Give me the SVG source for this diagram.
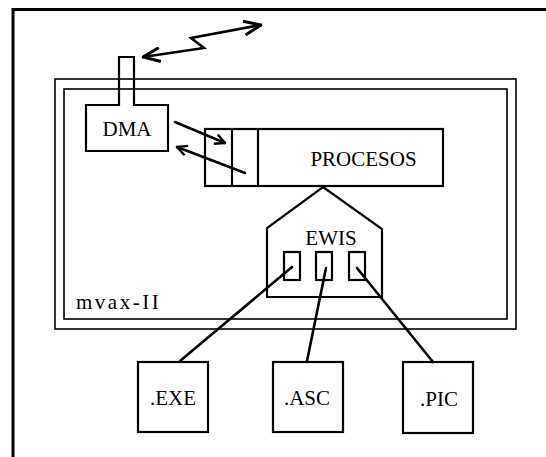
<svg xmlns="http://www.w3.org/2000/svg" width="546" height="457" viewBox="0 0 546 457">
<style>
.b{fill:none;stroke:#000;stroke-width:2.2}
.t{font-family:"Liberation Serif","Times New Roman",serif;fill:#000;font-size:21px}
.c{fill:none;stroke:#000;stroke-width:2.6;stroke-linecap:round}
.m{fill:none;stroke:#000;stroke-width:1.6}
</style>
<defs>
<marker id="ah" viewBox="0 0 12 12" refX="11" refY="6" markerWidth="12" markerHeight="12" markerUnits="userSpaceOnUse" orient="auto-start-reverse">
<path d="M1,1 L11,6 L1,11" fill="none" stroke="#000" stroke-width="2.4"/>
</marker>
<marker id="ah2" viewBox="0 0 20 16" refX="19" refY="8" markerWidth="20" markerHeight="16" markerUnits="userSpaceOnUse" orient="auto-start-reverse">
<path d="M2,1 L19,8 L2,15" fill="none" stroke="#000" stroke-width="3"/>
</marker>
</defs>
<rect width="546" height="457" fill="#fff"/>
<path d="M13,457 V9.5 H546" fill="none" stroke="#000" stroke-width="3"/>
<g id="mvax">
<rect class="m" x="55" y="79" width="461" height="250"/>
<rect class="m" x="64" y="89" width="443" height="230"/>
<text class="t" x="76" y="309" font-size="18" letter-spacing="2.5">mvax-II</text>
</g>
<g id="dma">
<path class="b" d="M86,105 H119 V57 H134 V105 H168 V151 H86 Z"/>
<text class="t" x="127" y="136" text-anchor="middle">DMA</text>
</g>
<g id="procesos">
<rect class="b" x="205" y="129" width="238" height="57"/>
<line class="b" x1="232" y1="129" x2="232" y2="186"/>
<line class="b" x1="258" y1="129" x2="258" y2="186"/>
<text class="t" x="363.5" y="166" text-anchor="middle">PROCESOS</text>
</g>
<g id="ewis">
<path class="b" d="M323,187 L382,229 V297 H267 V228 Z"/>
<text class="t" x="331" y="245" text-anchor="middle">EWIS</text>
<rect class="b" x="284" y="252" width="16" height="28"/>
<rect class="b" x="316" y="252" width="16" height="28"/>
<rect class="b" x="349" y="252" width="16" height="28"/>
</g>
<g id="exe">
<rect class="b" x="138" y="362" width="70" height="70"/>
<text class="t" x="173" y="405" text-anchor="middle" font-size="22">.EXE</text>
</g>
<g id="asc">
<rect class="b" x="273" y="362" width="70" height="70"/>
<text class="t" x="307" y="405" text-anchor="middle" font-size="22">.ASC</text>
</g>
<g id="pic">
<rect class="b" x="403" y="362" width="70" height="71"/>
<text class="t" x="439" y="406" text-anchor="middle" font-size="22">.PIC</text>
</g>
<g id="connectors">
<path class="c" d="M143,57 L204,48 L191,38 L261,25" marker-start="url(#ah2)" marker-end="url(#ah2)" stroke-width="3"/>
<line class="c" x1="175" y1="122" x2="225" y2="143" marker-end="url(#ah)"/>
<line class="c" x1="245" y1="173" x2="177" y2="147" marker-end="url(#ah)"/>
<line class="c" x1="292" y1="267" x2="180" y2="361"/>
<line class="c" x1="326" y1="268" x2="307" y2="361"/>
<line class="c" x1="357" y1="268" x2="433" y2="362"/>
</g>
</svg>
